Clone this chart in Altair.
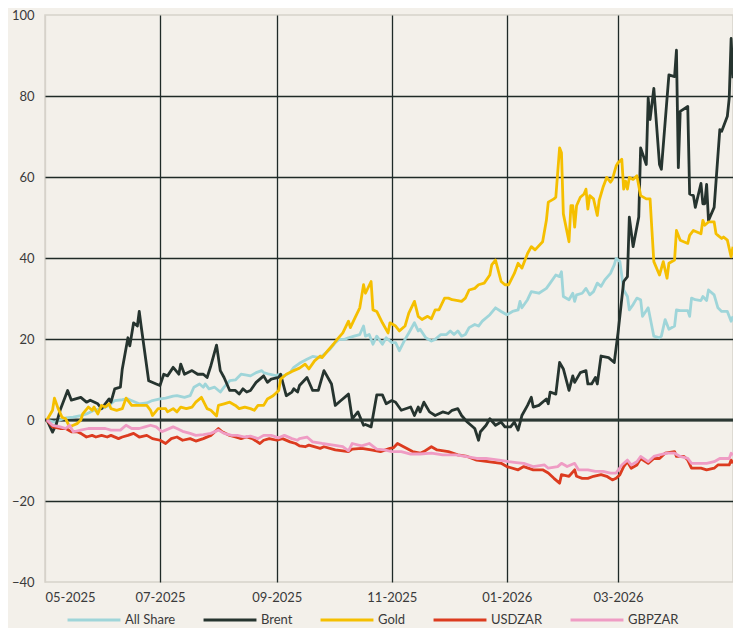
import altair as alt
import pandas as pd

START = pd.Timestamp("2025-05-01")
SERIES = ["All Share", "Brent", "Gold", "USDZAR", "GBPZAR"]
COLORS = ["#9fd5d9", "#26342f", "#f5bf00", "#dc3b1f", "#ef9cc4"]

# (days since 2025-05-01, % change)
ALL_SHARE = [(1,0),(5,-0.5),(8,0),(11,0.5),(15,0.7),(19,1.1),(22,1.5),(26,2.4),(30,2.8),(34,3.6),(37,4.8),(41,5),
    (44,5.2),(48,4.4),(50,4),(54,4.2),(57,4.8),(61,5.2),(64,5.4),(68,5.9),(70,6),(74,5.6),(77,6),(79,8.1),(82,8.9),
    (84,8.1),(85,8.9),(87,7.7),(90,8.1),(93,6.9),(95,8.1),(98,9.7),(101,9.9),(104,11.3),(107,11.1),(109,10.9),
    (112,11.7),(115,12.2),(116,11.7),(119,11.3),(123,10.9),(124,11.3),(127,10.9),(130,11.7),(132,13),(135,14),
    (139,15),(142,15.7),(146,15.4),(148,16.2),(151,17.4),(154,19.1),(156,19.9),(159,19.9),(161,20.3),(164,20.7),
    (167,21.1),(169,23.2),(170,20.7),(172,21.1),(174,18.7),(176,20.7),(179,18.7),(181,20.3),(184,19.1),(186,19.1),
    (188,17.1),(191,19.9),(193,21.5),(196,24),(198,22),(199,22.4),(202,20.3),(205,19.5),(207,19.9),(210,21.1),
    (213,21.1),(215,22),(217,21.1),(219,22),(221,20.7),(223,21.1),(225,22.8),(228,23.6),(230,23.2),(232,24.4),
    (236,26),(239,27.7),(242,26.8),(245,26),(248,26.8),(251,27.2),(252,29.3),(253,27.7),(256,29.7),(258,31.7),
    (262,31.3),(266,32.5),(268,33.8),(271,35.8),(273,35.4),(274,36.6),(275,30.5),(278,29.7),(280,31.3),(281,29.3),
    (282,30.9),(285,31.3),(287,32.5),(289,30.9),(291,31.7),(293,33.8),(295,33),(297,34.6),(300,36.2),(302,38.3),
    (303,39.9),(305,39.1),(307,32.1),(309,30.5),(310,27.2),(312,28.5),(314,30.1),(316,29.7),(317,25.6),(320,27.7),
    (323,20.7),(326,20.3),(327,20.7),(329,24.8),(331,22.4),(334,23.2),(335,27.2),(337,27),(341,27),(342,25.6),
    (343,30.1),(345,29.7),(348,29.5),(349,30.5),(351,29.5),(352,32.1),(355,30.9),(357,27.7),(359,26.8),(362,26.8),
    (364,24.4),(365,25.6)]

BRENT = [(1,0),(4,-3),(6,-1),(8,2.4),(12,7.3),(14,4.9),(19,5.6),(22,4.4),(24,4.9),(28,4),(30,2.8),(34,5.2),(35,4.4),
    (37,7.7),(40,8.1),(41,12.6),(44,20.3),(45,18.3),(47,24),(49,23.2),(50,26.8),(51,23.2),(55,9.7),(59,8.9),(61,8.5),
    (63,11.3),(65,10.9),(68,13),(71,11.3),(72,13.8),(74,11.3),(78,12.2),(81,11.3),(84,11.3),(86,10.5),(88,13.4),
    (91,18.5),(93,12.2),(95,10.5),(98,7.3),(101,7.3),(103,6.4),(105,7.7),(107,6.9),(109,7.3),(112,9.3),(116,10.9),
    (118,9.3),(120,10.1),(124,10.5),(125,11.3),(128,6),(131,6.9),(132,7.7),(134,6.9),(135,8.5),(139,10.5),(142,7.3),
    (145,7.3),(148,12.2),(152,8.9),(154,3.6),(157,4.8),(161,6.4),(163,0.3),(166,2),(169,-1.3),(170,-1.1),(173,-1.7),
    (176,6.2),(179,6.2),(181,4),(184,4.8),(186,4.4),(189,2.4),(194,3.2),(196,1.1),(198,3.2),(199,2),(201,4.4),(204,2),
    (207,1.1),(211,2),(214,1.6),(216,2.4),(219,2.8),(221,1.1),(224,-0.5),(228,-2.1),(230,-5),(231,-2.9),(234,-1.3),
    (236,0.3),(239,-1.3),(242,-0.5),(244,-1.7),(247,-1.7),(249,-0.5),(251,-2.5),(253,1.1),(256,3.6),(258,5.6),
    (259,3.2),(262,3.6),(266,5.2),(267,4),(268,6.9),(271,6.4),(273,14.2),(275,12.6),(278,7.3),(280,10.9),(281,9.3),
    (284,11.7),(287,12.2),(288,8.9),(290,8.9),(292,10.5),(293,8.9),(295,15.8),(299,15.4),(302,14.2),(304,21.5),
    (307,34.2),(309,35.4),(310,50.1),(312,42.8),(315,50.1),(316,67.2),(319,63.1),(320,79.5),(321,74.2),(323,81.9),
    (326,63.1),(327,61.9),(331,85.2),(334,84.8),(335,91.3),(336,62.3),(337,76.2),(341,77.4),(342,55.8),(344,55.4),
    (345,52.5),(348,58.4),(349,53.4),(350,53.4),(351,58.2),(352,49.3),(355,52.5),(358,71.7),(359,71.3),(362,75),
    (363,79.5),(364,94.2),(365,84.4)]

GOLD = [(1,0),(4,2.4),(5,5.4),(7,2.8),(9,0.7),(11,0.3),(13,-1.7),(15,-1.3),(17,-0.9),(19,0),(20,1.5),(23,3.2),
    (25,2.4),(26,3.2),(28,1.5),(30,3.6),(32,3.2),(34,4),(35,2.8),(38,2.4),(41,2.8),(43,5.4),(46,3.6),(50,3.6),
    (54,3.6),(56,2.4),(57,1.1),(60,2.8),(64,2.8),(65,2),(68,2.8),(70,2),(72,3.2),(75,2.8),(78,3.2),(80,4.4),(83,5.6),
    (86,2.8),(88,2.4),(91,1),(92,3.6),(95,4),(98,4.4),(101,3.6),(103,2.8),(106,3.2),(109,2.8),(111,2.4),(113,3.6),
    (116,3.6),(118,5.2),(121,6),(124,7.3),(125,10.1),(128,11.3),(131,12),(135,12.8),(138,13.8),(140,12.6),(143,14.6),
    (146,15.8),(147,15.4),(150,17.1),(153,18.7),(155,19.9),(158,21.5),(161,24.4),(162,22.8),(164,24.8),(167,27.7),
    (169,33.4),(170,31.3),(173,34.2),(174,27.2),(176,26.8),(179,24),(182,21.5),(183,24),(186,23.2),(188,22),
    (191,23.2),(193,26.4),(196,29.3),(198,25.6),(200,24.8),(203,25.6),(205,25),(207,27.2),(209,27.2),(212,30.1),
    (214,30.1),(216,29.7),(219,29.5),(221,29.3),(223,30.1),(225,32.1),(228,32.5),(230,33.4),(233,33.8),(236,35.8),
    (237,38.3),(239,39.5),(242,34.2),(244,33.4),(246,33.4),(249,36.2),(251,38.7),(253,37.5),(256,41.1),(258,42.8),
    (260,42),(264,44),(266,49.3),(267,53.8),(270,54.6),(271,55),(273,67.2),(274,66),(275,50.9),(278,44),(279,52.9),
    (280,52.9),(281,47.6),(282,52.9),(284,55),(286,55.8),(287,57),(288,52.1),(289,55.4),(291,54.6),(293,50.5),
    (294,54.2),(296,57.4),(298,59.9),(300,58.7),(301,59.4),(303,62.7),(304,63.5),(306,64.4),(307,57),(308,59),
    (309,57),(310,59.9),(312,59.4),(314,60.3),(316,55.4),(319,54.6),(321,54.6),(322,46.8),(323,39.1),(326,35.8),
    (328,39.1),(330,35),(331,38.7),(334,39.5),(335,46.8),(337,44.4),(341,43.6),(342,45.6),(344,46.8),(348,46),
    (349,49.3),(350,48.1),(352,48.9),(355,48.9),(356,46),(357,45.6),(359,44.8),(360,45.2),(362,44.4),(364,40.3),
    (365,42.8)]

USDZAR = [(1,0),(4,-1.7),(8,-2.1),(11,-2.1),(14,-2.9),(17,-2.9),(19,-3.3),(22,-4.2),(25,-3.8),(27,-4.2),(30,-3.8),
    (33,-4.2),(35,-3.8),(39,-4.6),(41,-4.2),(44,-3.8),(47,-3.3),(50,-4.2),(54,-3.8),(57,-4.6),(61,-5),(64,-5.8),
    (67,-4.6),(70,-4.2),(73,-5),(77,-4.6),(80,-5.2),(84,-4.6),(88,-3.8),(92,-2.1),(94,-2.9),(98,-3.8),(101,-4.2),
    (104,-4.6),(107,-4.2),(110,-4.6),(114,-5.8),(116,-5),(119,-4.6),(123,-5),(126,-4.6),(130,-5.4),(133,-5.8),
    (135,-6.4),(138,-6.6),(140,-6.2),(146,-7),(148,-6.6),(154,-7.4),(161,-7.8),(163,-7.2),(168,-7),(173,-7.4),
    (178,-7.8),(183,-7),(185,-6.8),(187,-5.8),(191,-6.8),(195,-7.8),(199,-8.2),(201,-7.8),(205,-6.6),(208,-7.4),
    (214,-7.8),(219,-8.6),(224,-9),(229,-9.9),(235,-10.3),(242,-10.7),(245,-11.5),(251,-12.3),(254,-11.5),
    (259,-12.3),(264,-12.3),(267,-13.1),(270,-14.4),(273,-15.6),(274,-13.5),(278,-13.9),(281,-12.3),(282,-13.9),
    (285,-14.4),(288,-14.4),(291,-13.9),(295,-13.5),(298,-13.9),(301,-14.8),(303,-14.4),(305,-13.5),(307,-11.5),
    (309,-10.3),(311,-11.9),(314,-11.1),(316,-9.5),(320,-10.7),(323,-9.5),(326,-9.5),(329,-8.2),(334,-7.8),
    (335,-9),(339,-9),(341,-9.9),(343,-11.9),(348,-11.9),(351,-12.3),(355,-11.9),(357,-11.1),(361,-11.1),
    (363,-11.1),(364,-9.9),(365,-10.7)]

GBPZAR = [(1,0),(4,-1.3),(8,-1.7),(11,-2.1),(13,-1.3),(15,-2.9),(19,-2.5),(23,-2.1),(27,-2.1),(32,-2.1),(35,-2.5),
    (40,-2.5),(43,-1.3),(46,-2.1),(50,-2.1),(53,-1.7),(56,-1.3),(59,-1.7),(62,-2.9),(64,-2.5),(68,-1.7),(70,-2.1),
    (73,-2.8),(77,-3.3),(80,-3.8),(84,-3.6),(88,-3.3),(92,-2.5),(95,-3.3),(99,-3.8),(102,-3.8),(106,-4.2),(109,-4),
    (113,-4.6),(116,-3.8),(120,-3.8),(124,-4.4),(127,-3.8),(131,-4.6),(134,-5),(135,-4.6),(139,-4.2),(142,-5.4),
    (147,-5.8),(153,-6.2),(158,-6.6),(161,-7.6),(163,-5.8),(168,-6.4),(172,-5.8),(176,-7.2),(180,-7.4),(184,-7.8),
    (189,-7.8),(194,-8.4),(199,-8.4),(205,-8.2),(211,-8.6),(218,-8.6),(223,-9),(229,-9.5),(234,-9.5),(241,-9.9),
    (246,-10.3),(250,-10.5),(254,-10.7),(259,-11.5),(265,-11.1),(267,-11.9),(272,-11.5),(274,-10.7),(277,-11.5),
    (281,-10.7),(283,-12.3),(288,-12.3),(292,-12.7),(296,-12.7),(300,-13.1),(303,-13.1),(306,-11.1),(309,-9.9),
    (311,-11.1),(314,-10.3),(316,-9),(320,-10.3),(323,-9),(326,-8.6),(330,-8.2),(334,-8.2),(337,-9),(341,-9.5),
    (343,-10.7),(348,-10.7),(351,-10.7),(355,-10.3),(358,-9.5),(363,-9.5),(364,-8.2),(365,-8.6)]

Y_TICKS = [-40, -20, 0, 20, 40, 60, 80, 100]
X_TICK_MONTHS = [(2025, 5), (2025, 7), (2025, 9), (2025, 11), (2026, 1), (2026, 3)]
ZERO = [0]

rows = []
for name, pts in zip(SERIES, [ALL_SHARE, BRENT, GOLD, USDZAR, GBPZAR]):
    for d, v in pts:
        rows.append({"date": (START + pd.Timedelta(days=d)).strftime("%Y-%m-%dT00:00:00"),
                     "series": name, "value": v})
df = pd.DataFrame(rows)

GRID_DARK = "#1f2a27"
LIGHT = "#d6d2ca"

x_axis = alt.Axis(
    values=[alt.DateTime(year=y, month=m, date=1) for y, m in X_TICK_MONTHS],
    format="%m-%Y", title=None, labelPadding=9, labelAngle=0,
    gridColor={"condition": {"test": "datum.value < datetime(2025, 4, 10)", "value": LIGHT}, "value": GRID_DARK},
)
y_axis = alt.Axis(
    values=Y_TICKS, title=None, labelPadding=11,
    gridColor={"condition": {"test": "datum.value == 100 || datum.value == -40", "value": "transparent"}, "value": GRID_DARK},
)

x_scale = alt.Scale(domain=[alt.DateTime(year=2025, month=5, date=1), alt.DateTime(year=2026, month=5, date=1)])
y_scale = alt.Scale(domain=[-40, 100], nice=False)

zero = alt.Chart(pd.DataFrame({"v": ZERO})).mark_rule(color="#2b3833", strokeWidth=3).encode(
    y=alt.Y("v:Q", scale=y_scale, axis=y_axis)
)

lines = alt.Chart(df).mark_line(strokeWidth=2.8, strokeJoin="round").encode(
    x=alt.X("date:T", scale=x_scale, axis=x_axis),
    y=alt.Y("value:Q", scale=y_scale, axis=y_axis),
    color=alt.Color("series:N", scale=alt.Scale(domain=SERIES, range=COLORS), sort=SERIES,
                    legend=alt.Legend(title=None, orient="none", direction="horizontal",
                                      legendX=21, legendY=577)),
)

chart = alt.layer(zero, lines).properties(
    width=688, height=567,
    autosize=alt.AutoSizeParams(type="none"),
    padding={"left": 37, "top": 7, "right": 0, "bottom": 46},
    background="#f3f0ea",
).configure_view(
    stroke=LIGHT, strokeWidth=1.5
).configure_axis(
    labelFont="Lato", labelFontSize=13, labelColor="#3a3a3a", ticks=False, domain=False, gridWidth=1.3,
    gridOpacity=1,
).configure_legend(
    symbolType="stroke", symbolSize=2800, symbolStrokeWidth=3,
    labelFont="Lato", labelFontSize=13, labelColor="#3a3a3a", columnPadding=21, labelOffset=3,
)

chart.save("out.html", embed_options={"renderer": "svg", "actions": False})
